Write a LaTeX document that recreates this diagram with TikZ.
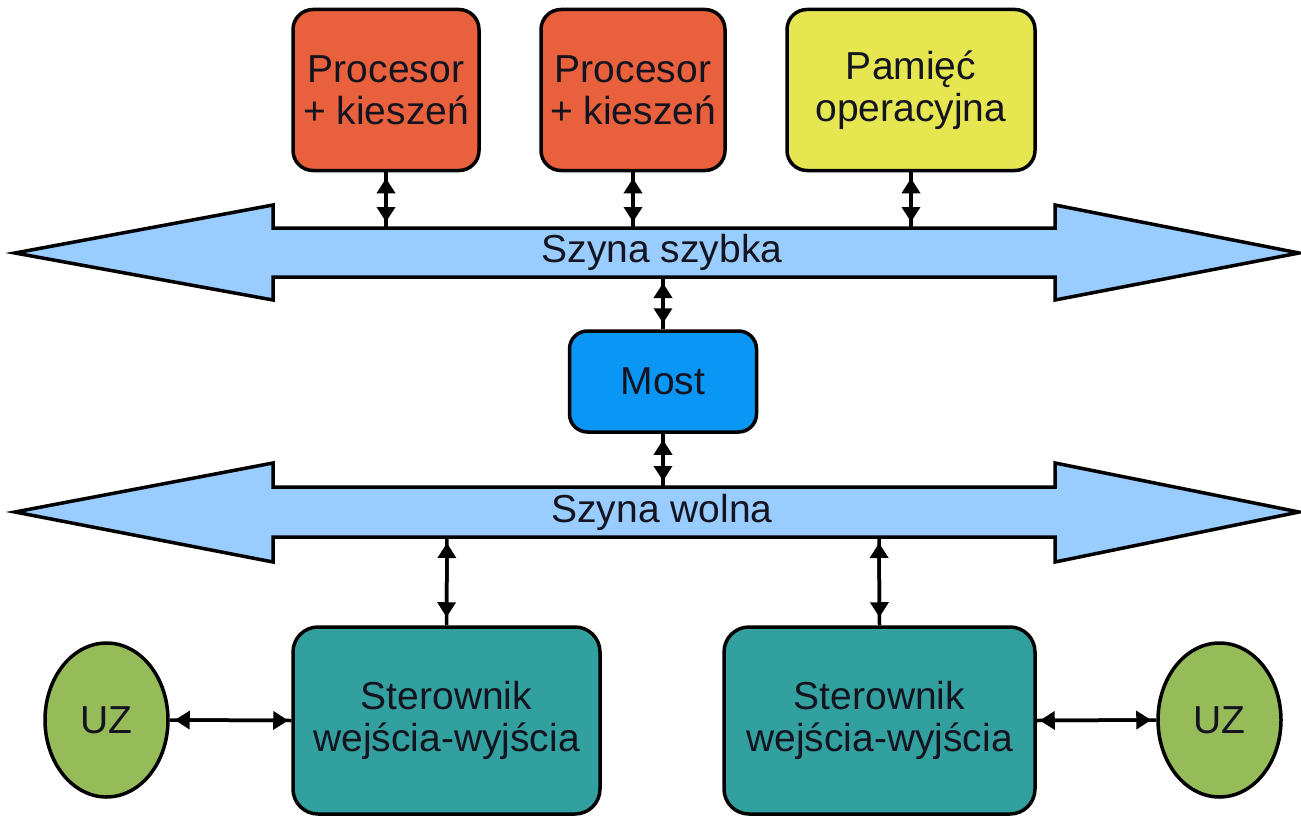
\documentclass[tikz,border=0pt]{standalone}
\usepackage{fontspec}
\setmainfont{Liberation Sans}
\usetikzlibrary{arrows.meta,shapes.geometric}
\definecolor{proc}{HTML}{E8603C}
\definecolor{mem}{HTML}{E6E650}
\definecolor{bus}{HTML}{99CCFF}
\definecolor{most}{HTML}{0A96F5}
\definecolor{ctrl}{HTML}{33A0A0}
\definecolor{uz}{HTML}{96BC5A}
\definecolor{txt}{HTML}{141420}
\tikzset{
  box/.style={draw=black, line width=3.5pt, rounded corners=20pt, align=center,
    text=txt, font=\fontsize{39}{42}\selectfont, inner sep=0pt},
  uzbox/.style={draw=black, line width=3.5pt, ellipse, text=txt,
    font=\fontsize{39}{42}\selectfont, inner sep=0pt},
  busshape/.style={draw=black, fill=bus, line width=3.5pt, line join=miter},
  link/.style={line width=3.5pt},
  dualtip/.style={line width=3.5pt, {Triangle[length=15pt,width=18pt]}-{Triangle[length=15pt,width=18pt]}},
}
\begin{document}
\begin{tikzpicture}[x=1pt,y=-1pt]
\useasboundingbox (0,0) rectangle (1301,816);
\fill[white] (0,0) rectangle (1301,816);

% buses
\draw[busshape] (15,253) -- (273,205) -- (273,228) -- (1055,228) -- (1055,205) -- (1299,253)
  -- (1055,300) -- (1055,277) -- (273,277) -- (273,300) -- cycle;
\node[text=txt, font=\fontsize{39}{42}\selectfont] (szybka) at (662,252) {Szyna szybka};
\draw[busshape] (15,512) -- (273,463) -- (273,487) -- (1055,487) -- (1055,463) -- (1299,512)
  -- (1055,562) -- (1055,537) -- (273,537) -- (273,562) -- cycle;
\node[text=txt, font=\fontsize{39}{42}\selectfont] (wolna) at (662,512) {Szyna wolna};

% bus attachment points
\coordinate (f1) at (386,228);
\coordinate (f2) at (633,228);
\coordinate (f3) at (911,228);
\coordinate (f4) at (663,277);
\coordinate (s1) at (663,487);
\coordinate (s2) at (447,537);
\coordinate (s3) at (879,537);

% nodes
\node[box, fill=proc, minimum width=186pt, minimum height=161pt] (p1) at (386,90) {Procesor\\+ kieszeń};
\node[box, fill=proc, minimum width=184pt, minimum height=161pt] (p2) at (633,90) {Procesor\\+ kieszeń};
\node[box, fill=mem, minimum width=248pt, minimum height=161pt] (pm) at (911,90) {Pamięć\\operacyjna};
\node[box, fill=most, rounded corners=18pt, minimum width=187pt, minimum height=101pt] (most) at (663,381.5) {Most};
\node[box, fill=ctrl, rounded corners=25pt, minimum width=307pt, minimum height=187pt] (c1) at (446.5,720.5) {Sterownik\\wejścia-wyjścia};
\node[box, fill=ctrl, rounded corners=25pt, minimum width=311pt, minimum height=187pt] (c2) at (879.5,720.5) {Sterownik\\wejścia-wyjścia};
\node[uzbox, fill=uz, minimum width=123pt, minimum height=154pt] (u1) at (106.5,720) {UZ};
\node[uzbox, fill=uz, minimum width=123pt, minimum height=154pt] (u2) at (1219.5,720) {UZ};

% connectors
\foreach \a/\b in {p1/f1, p2/f2, pm/f3}{
  \draw[link] (\a.south) -- (\b);
  \draw[dualtip, shorten <=6pt, shorten >=6pt] (\a.south) -- (\b);
}
\draw[link] (f4) -- (most.north);
\draw[dualtip, shorten <=6pt, shorten >=6pt] (f4) -- (most.north);
\draw[link] (most.south) -- (s1);
\draw[dualtip, shorten <=6pt, shorten >=6pt] (most.south) -- (s1);
\foreach \a/\b in {c1/s2, c2/s3}{
  \draw[link] (\a.north) -- (\b);
  \draw[dualtip, shorten <=6pt, shorten >=8pt] (\b) -- (\a.north);
}
\draw[link] (u1.east) -- (c1.west);
\draw[dualtip, shorten <=5pt, shorten >=3pt] (u1.east) -- (c1.west);
\draw[link] (c2.east) -- (u2.west);
\draw[dualtip, shorten <=3pt, shorten >=5pt] (c2.east) -- (u2.west);
\end{tikzpicture}
\end{document}
